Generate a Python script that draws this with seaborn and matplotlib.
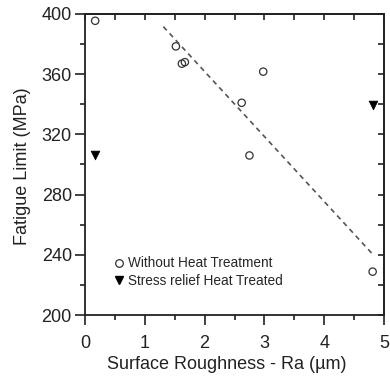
import matplotlib
matplotlib.use("Agg")
import matplotlib.pyplot as plt
import seaborn as sns
import pandas as pd
from matplotlib.ticker import MultipleLocator
from matplotlib.lines import Line2D

# Data
ra_without = [0.17, 1.52, 1.62, 1.67, 2.62, 2.75, 2.98, 4.81]
fl_without = [395.5, 378.5, 367.0, 368.0, 341.0, 306.0, 361.7, 228.8]
ra_relief = [0.17, 4.81]
fl_relief = [306.3, 339.5]
fit_x = [1.31, 4.82]
fit_y = [391.6, 240.0]

label_without = "Without Heat Treatment"
label_relief = "Stress relief Heat Treated"

sns.set_theme(style="ticks")
plt.rcParams['font.family'] = ['Liberation Sans', 'DejaVu Sans']

fig = plt.figure(figsize=(3.9, 3.76), dpi=100)
ax = fig.add_axes([85/390, 61/376, 299/390, 301/376])

df_w = pd.DataFrame({"x": ra_without, "y": fl_without})
df_r = pd.DataFrame({"x": ra_relief, "y": fl_relief})
df_f = pd.DataFrame({"x": fit_x, "y": fit_y})

sns.lineplot(data=df_f, x="x", y="y", ax=ax, color="#555555", lw=1.2,
             linestyle=(0, (3, 2.5)))
sns.scatterplot(data=df_w, x="x", y="y", ax=ax, marker="o", s=28,
                facecolor="none", edgecolor="#333333", linewidth=0.9)
sns.scatterplot(data=df_r, x="x", y="y", ax=ax, marker="v", s=40,
                color="black", edgecolor="black", linewidth=0.5)

ax.set_xlim(0, 5)
ax.set_ylim(200, 400)
ax.xaxis.set_major_locator(MultipleLocator(1))
ax.xaxis.set_minor_locator(MultipleLocator(0.5))
ax.yaxis.set_major_locator(MultipleLocator(40))
ax.yaxis.set_minor_locator(MultipleLocator(20))

for s in ax.spines.values():
    s.set_linewidth(1.3)
    s.set_color("#222222")
    s.set_visible(True)

ax.tick_params(axis="both", which="major", direction="out", length=7, width=1.2,
               labelsize=13, colors="#222222")
ax.tick_params(axis="x", which="major", pad=7.5)
ax.tick_params(axis="y", which="major", pad=2.5)
ax.tick_params(axis="both", which="minor", direction="out", length=3.5, width=1.2,
               colors="#222222")

# inward ticks on top and right
ax_top = ax.secondary_xaxis("top")
ax_top.set_xticks([0.5 * i for i in range(11)])
ax_top.tick_params(direction="in", length=4, width=1.2, labeltop=False, colors="#222222")
ax_top.spines["top"].set_linewidth(1.3)
ax_right = ax.secondary_yaxis("right")
ax_right.set_yticks(list(range(200, 401, 20)))
ax_right.tick_params(direction="in", length=4, width=1.2, labelright=False, colors="#222222")
ax_right.spines["right"].set_linewidth(1.3)

ax.set_xlabel("Surface Roughness - Ra (\u00b5m)", fontsize=13, color="#222222")
ax.set_ylabel("Fatigue Limit (MPa)", fontsize=13, color="#222222")
ax.xaxis.set_label_coords(0.475, -0.135)
ax.yaxis.set_label_coords(-0.182, 0.494)

handles = [
    Line2D([], [], marker="o", linestyle="none", markerfacecolor="none",
           markeredgecolor="#333333", markersize=5.5, markeredgewidth=0.9),
    Line2D([], [], marker="v", linestyle="none", color="black", markersize=6),
]
ax.legend(handles, [label_without, label_relief], loc="lower left",
          bbox_to_anchor=(0.072, 0.072), frameon=False, fontsize=9.8,
          handletextpad=0.15, handlelength=1.0, labelspacing=0.25,
          borderaxespad=0)

fig.savefig("out.png", dpi=100)
